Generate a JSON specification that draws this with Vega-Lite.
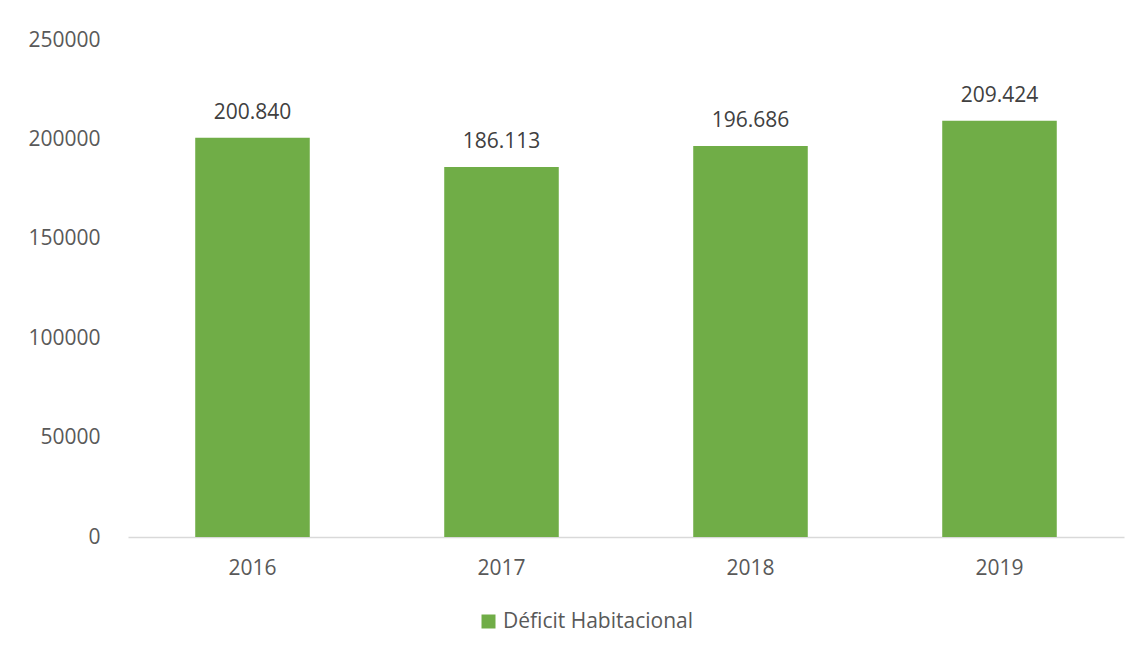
{
  "$schema": "https://vega.github.io/schema/vega-lite/v6.json",
  "width": 996,
  "height": 497,
  "autosize": {"type": "none"},
  "padding": {"left": 128, "top": 40, "right": 14, "bottom": 115},
  "background": "white",
  "config": {
    "view": {"stroke": null},
    "font": "Open Sans",
    "locale": {"number": {"decimal": ",", "thousands": ".", "grouping": [3], "currency": ["$", ""]}}
  },
  "data": {
    "values": [
      {"year": "2016", "value": 200840, "serie": "Déficit Habitacional"},
      {"year": "2017", "value": 186113, "serie": "Déficit Habitacional"},
      {"year": "2018", "value": 196686, "serie": "Déficit Habitacional"},
      {"year": "2019", "value": 209424, "serie": "Déficit Habitacional"}
    ]
  },
  "encoding": {
    "x": {
      "field": "year",
      "type": "ordinal",
      "scale": {"paddingInner": 0.54, "paddingOuter": 0.27},
      "axis": {
        "title": null,
        "labelAngle": 0,
        "labelFont": "Open Sans",
        "labelFontSize": 21,
        "labelColor": "#595959",
        "labelPadding": 20,
        "ticks": false,
        "domainColor": "#D9D9D9",
        "domainWidth": 1.5
      }
    },
    "y": {
      "field": "value",
      "type": "quantitative",
      "scale": {"domain": [0, 250000], "nice": false},
      "axis": {
        "title": null,
        "values": [0, 50000, 100000, 150000, 200000, 250000],
        "format": "d",
        "labelFont": "Open Sans",
        "labelFontSize": 21,
        "labelColor": "#595959",
        "labelPadding": 28,
        "ticks": false,
        "domain": false,
        "grid": false
      }
    }
  },
  "layer": [
    {
      "mark": {"type": "bar"},
      "encoding": {
        "color": {
          "field": "serie",
          "type": "nominal",
          "scale": {"range": ["#70AD47"]},
          "legend": {
            "title": null,
            "orient": "none",
            "legendX": 350,
            "legendY": 571,
            "direction": "horizontal",
            "symbolType": "square",
            "symbolSize": 196,
            "symbolStrokeWidth": 0,
            "labelFont": "Open Sans",
            "labelFontSize": 21,
            "labelColor": "#595959",
            "labelOffset": 4,
            "labelLimit": 400
          }
        }
      }
    },
    {
      "mark": {"type": "text", "baseline": "middle", "dy": -25, "font": "Open Sans", "fontSize": 21, "color": "#404040"},
      "encoding": {
        "text": {"field": "value", "type": "quantitative", "format": ",d"}
      }
    }
  ]
}
